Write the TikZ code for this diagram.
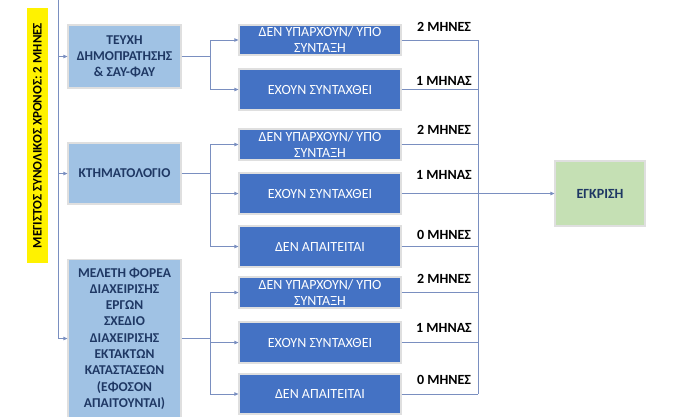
\documentclass[tikz,border=0pt]{standalone}
\usepackage{fontspec}
\setmainfont{Carlito}
\usepackage{tikz}
\usetikzlibrary{arrows.meta, calc}
\definecolor{lightbox}{RGB}{160,194,228}
\definecolor{darkbox}{RGB}{68,114,196}
\definecolor{greenbox}{RGB}{197,224,180}
\definecolor{navytext}{RGB}{31,56,100}
\definecolor{linkcol}{RGB}{122,143,192}

\begin{document}
\begin{tikzpicture}[x=1pt, y=-1pt,
  mainbox/.style={draw=gray!25, line width=1.2pt, fill=lightbox, text=navytext,
    font=\bfseries\fontsize{13.5}{16.3}\selectfont, align=center,
    minimum width=113pt, inner sep=1pt},
  subbox/.style={draw=gray!25, line width=1.2pt, fill=darkbox, text=white,
    font=\fontsize{14}{16}\selectfont, align=center,
    minimum width=162pt, inner sep=0pt},
  months/.style={font=\bfseries\fontsize{14}{15}\selectfont, inner sep=0pt},
  link/.style={draw=linkcol, line width=0.9pt},
  arr/.style={link, -{Triangle[length=4pt,width=3.5pt]}}]
\useasboundingbox (0,0) rectangle (684,416);
% yellow bar
\node[rotate=90, fill=yellow, minimum width=255pt, minimum height=21pt, inner sep=0pt,
  font=\bfseries\fontsize{13}{14}\selectfont] (total) at (37.5,135.5)
  {ΜΕΓΙΣΤΟΣ ΣΥΝΟΛΙΚΟΣ ΧΡΟΝΟΣ: 2 ΜΗΝΕΣ};
% left column
\node[mainbox, minimum height=63pt] (tx) at (124.5,56.5) {ΤΕΥΧΗ\\ΔΗΜΟΠΡΑΤΗΣΗΣ\\\& ΣΑΥ-ΦΑΥ};
\node[mainbox, minimum height=61pt] (kt) at (124.5,173.5) {ΚΤΗΜΑΤΟΛΟΓΙΟ};
\node[mainbox, minimum height=158pt] (mf) at (124.5,338.5) {ΜΕΛΕΤΗ ΦΟΡΕΑ\\ΔΙΑΧΕΙΡΙΣΗΣ\\ΕΡΓΩΝ\\ΣΧΕΔΙΟ\\ΔΙΑΧΕΙΡΙΣΗΣ\\ΕΚΤΑΚΤΩΝ\\ΚΑΤΑΣΤΑΣΕΩΝ\\(ΕΦΟΣΟΝ\\ΑΠΑΙΤΟΥΝΤΑΙ)};
% middle column
\node[subbox, minimum height=30pt] (a) at (320,40) {ΔΕΝ ΥΠΑΡΧΟΥΝ/ ΥΠΟ\\ΣΥΝΤΑΞΗ};
\node[subbox, minimum height=41pt] (b) at (320,89.5) {ΕΧΟΥΝ ΣΥΝΤΑΧΘΕΙ};
\node[subbox, minimum height=31pt] (c) at (320,144.5) {ΔΕΝ ΥΠΑΡΧΟΥΝ/ ΥΠΟ\\ΣΥΝΤΑΞΗ};
\node[subbox, minimum height=41pt] (d) at (320,193.5) {ΕΧΟΥΝ ΣΥΝΤΑΧΘΕΙ};
\node[subbox, minimum height=41pt] (e) at (320,246.5) {ΔΕΝ ΑΠΑΙΤΕΙΤΑΙ};
\node[subbox, minimum height=31pt] (f) at (320,292.5) {ΔΕΝ ΥΠΑΡΧΟΥΝ/ ΥΠΟ\\ΣΥΝΤΑΞΗ};
\node[subbox, minimum height=41pt] (g) at (320,342.5) {ΕΧΟΥΝ ΣΥΝΤΑΧΘΕΙ};
\node[subbox, minimum height=40pt] (h) at (320,394) {ΔΕΝ ΑΠΑΙΤΕΙΤΑΙ};
% approval
\node[draw=gray!25, line width=1.2pt, fill=greenbox, text=navytext, minimum width=90pt,
  minimum height=65pt, font=\bfseries\fontsize{14}{15}\selectfont] (egk) at (600,193.5) {ΕΓΚΡΙΣΗ};
% month labels
\node[months] (m1) at (444,27) {2 ΜΗΝΕΣ};
\node[months] (m2) at (444,81) {1 ΜΗΝΑΣ};
\node[months] (m3) at (444,130) {2 ΜΗΝΕΣ};
\node[months] (m4) at (444,175) {1 ΜΗΝΑΣ};
\node[months] (m5) at (444,235) {0 ΜΗΝΕΣ};
\node[months] (m6) at (444,279) {2 ΜΗΝΕΣ};
\node[months] (m7) at (444,328) {1 ΜΗΝΑΣ};
\node[months] (m8) at (444,380) {0 ΜΗΝΕΣ};
% connectors, left
\coordinate (top) at (58,0);
\draw[arr] (top) |- (mf.west);
\draw[arr] (top |- tx.west) -- (tx.west);
\draw[arr] (top |- kt.west) -- (kt.west);
\draw[link] (tx.east) -- ++(29,0) coordinate (j1);
\draw[arr] (j1) |- (a.west);
\draw[arr] (j1) |- (b.west);
\draw[link] (kt.east) -- ++(29,0) coordinate (j2);
\draw[arr] (j2) |- (c.west);
\draw[arr] (j2) |- (d.west);
\draw[arr] (j2) |- (e.west);
\draw[link] (mf.east) -- ++(29,0) coordinate (j3);
\draw[arr] (j3) |- (f.west);
\draw[arr] (j3) |- (g.west);
\draw[arr] (j3) |- (h.west);
% connectors, right
\coordinate (bus) at (478,0);
\foreach \n in {a,b,c,e,f,g,h}
  \draw[link] (\n.east) -- (\n.east -| bus);
\draw[link] (a.east -| bus) -- (h.east -| bus);
\draw[arr] (d.east) -- (egk.west);
\end{tikzpicture}
\end{document}
